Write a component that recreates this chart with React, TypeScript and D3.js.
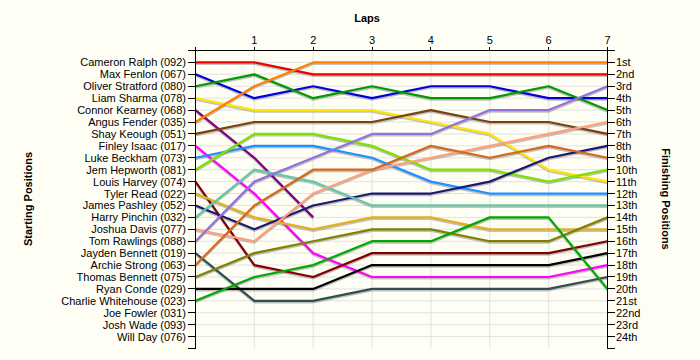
import React from "react";
import * as d3 from "d3";

const drivers = [
  "Cameron Ralph (092)", "Max Fenlon (067)", "Oliver Stratford (080)", "Liam Sharma (078)",
  "Connor Kearney (068)", "Angus Fender (035)", "Shay Keough (051)", "Finley Isaac (017)",
  "Luke Beckham (073)", "Jem Hepworth (081)", "Louis Harvey (074)", "Tyler Read (022)",
  "James Pashley (052)", "Harry Pinchin (032)", "Joshua Davis (077)", "Tom Rawlings (088)",
  "Jayden Bennett (019)", "Archie Strong (063)", "Thomas Bennett (075)", "Ryan Conde (029)",
  "Charlie Whitehouse (023)", "Joe Fowler (031)", "Josh Wade (093)", "Will Day (076)",
];

const finishLabels = [
  "1st", "2nd", "3rd", "4th", "5th", "6th", "7th", "8th", "9th", "10th", "11th", "12th",
  "13th", "14th", "15th", "16th", "17th", "18th", "19th", "20th", "21st", "22nd", "23rd", "24th",
];

const laps = [1, 2, 3, 4, 5, 6, 7];

const lineColors = [
  "#ee0000", "#0000dd", "#009a00", "#ffe600", "#800080", "#ff8000", "#7a4010",
  "#ff00ff", "#1e90ff", "#7ce000", "#800000", "#e0b020", "#191970", "#66c8a8",
  "#ffa07a", "#9370db", "#2f4f4f", "#d2691e", "#808000", "#000000", "#00a800",
];

// position at lap 0..7 (start = lap 0)
const positions: number[][] = [
  [1, 1, 2, 2, 2, 2, 2, 2],
  [2, 4, 3, 4, 3, 3, 4, 4],
  [3, 2, 4, 3, 4, 4, 3, 5],
  [4, 5, 5, 5, 6, 7, 10, 11],
  [5, 9, 14],
  [6, 3, 1, 1, 1, 1, 1, 1],
  [7, 6, 6, 6, 5, 6, 6, 7],
  [8, 12, 17, 19, 19, 19, 19, 18],
  [9, 8, 8, 9, 11, 12, 12, 12],
  [10, 7, 7, 8, 10, 10, 11, 10],
  [11, 18, 19, 17, 17, 17, 17, 16],
  [12, 14, 15, 14, 14, 15, 15, 15],
  [13, 15, 13, 12, 12, 11, 9, 8],
  [14, 10, 11, 13, 13, 13, 13, 13],
  [15, 16, 12, 10, 9, 8, 7, 6],
  [16, 11, 9, 7, 7, 5, 5, 3],
  [17, 21, 21, 20, 20, 20, 20, 19],
  [18, 13, 10, 10, 8, 9, 8, 9],
  [19, 17, 16, 15, 15, 16, 16, 14],
  [20, 20, 20, 18, 18, 18, 18, 17],
  [21, 19, 18, 16, 16, 14, 14, 20],
];

const W = 700;
const H = 360;
const FONT = "'Liberation Sans', Arial, sans-serif";

export default function App() {
  const x = d3.scaleLinear().domain([0, 7]).range([195.5, 607.5]);
  const y = d3.scaleLinear().domain([0, 25]).range([50.5, 348.5]);
  const line = d3
    .line<number>()
    .x((_, i) => x(i))
    .y((d) => y(d));

  const rows = d3.range(1, 25);
  const allRowTicks = d3.range(0, 26);
  const lapTicks = d3.range(0, 8);

  return (
    <svg
      width={W}
      height={H}
      style={{ position: "absolute", left: 0, top: 0, background: "#fefef4" }}
    >
      <rect x={0} y={0} width={W} height={H} fill="#fefef4" />
      {/* grid */}
      <g stroke="#e2e2e2" strokeWidth={1}>
        {laps.slice(0, 6).map((l) => (
          <line key={"gx" + l} x1={x(l)} x2={x(l)} y1={y(0)} y2={y(25)} />
        ))}
        {rows.map((r) => (
          <line key={"gy" + r} x1={x(0)} x2={x(7)} y1={y(r)} y2={y(r)} />
        ))}
      </g>

      {/* shadows */}
      <g fill="none" stroke="#7a7a7a" strokeOpacity={0.45} strokeWidth={2} transform="translate(0,1.6)">
        {positions.map((p, i) => (
          <path key={"s" + i} d={line(p) || ""} strokeLinejoin="round" />
        ))}
      </g>
      {/* lines */}
      <g fill="none" strokeWidth={2.2}>
        {positions.map((p, i) => (
          <path key={"l" + i} d={line(p) || ""} stroke={lineColors[i]} strokeLinejoin="round" />
        ))}
      </g>

      {/* axes */}
      <g stroke="#000" strokeWidth={1} shapeRendering="crispEdges">
        <line x1={188} x2={615} y1={y(0)} y2={y(0)} />
        <line x1={x(0)} x2={x(0)} y1={47} y2={y(25)} />
        <line x1={x(7)} x2={x(7)} y1={47} y2={y(25)} />
        {lapTicks.map((l) => (
          <line key={"tx" + l} x1={x(l)} x2={x(l)} y1={47} y2={y(0)} />
        ))}
        {allRowTicks.map((r) => (
          <line key={"tl" + r} x1={188} x2={x(0)} y1={y(r)} y2={y(r)} />
        ))}
        {allRowTicks.map((r) => (
          <line key={"tr" + r} x1={x(7)} x2={615} y1={y(r)} y2={y(r)} />
        ))}
      </g>

      {/* tick labels */}
      <g fontFamily={FONT} fontSize={11} fill="#000">
        {laps.map((l) => (
          <text key={"lx" + l} x={x(l)} y={44} textAnchor="middle">
            {l}
          </text>
        ))}
        {drivers.map((d, i) => (
          <text key={"ld" + i} x={186} y={y(i + 1) + 4} textAnchor="end">
            {d}
          </text>
        ))}
        {finishLabels.map((d, i) => (
          <text key={"lf" + i} x={616} y={y(i + 1) + 4} textAnchor="start">
            {d}
          </text>
        ))}
      </g>

      {/* titles */}
      <g fontFamily={FONT} fontSize={11} fontWeight="bold" fill="#000">
        <text x={367} y={22} textAnchor="middle">
          Laps
        </text>
        <text transform="translate(32,199) rotate(-90)" textAnchor="middle">
          Starting Positions
        </text>
        <text transform="translate(662,199) rotate(90)" textAnchor="middle">
          Finishing Positions
        </text>
      </g>
    </svg>
  );
}
